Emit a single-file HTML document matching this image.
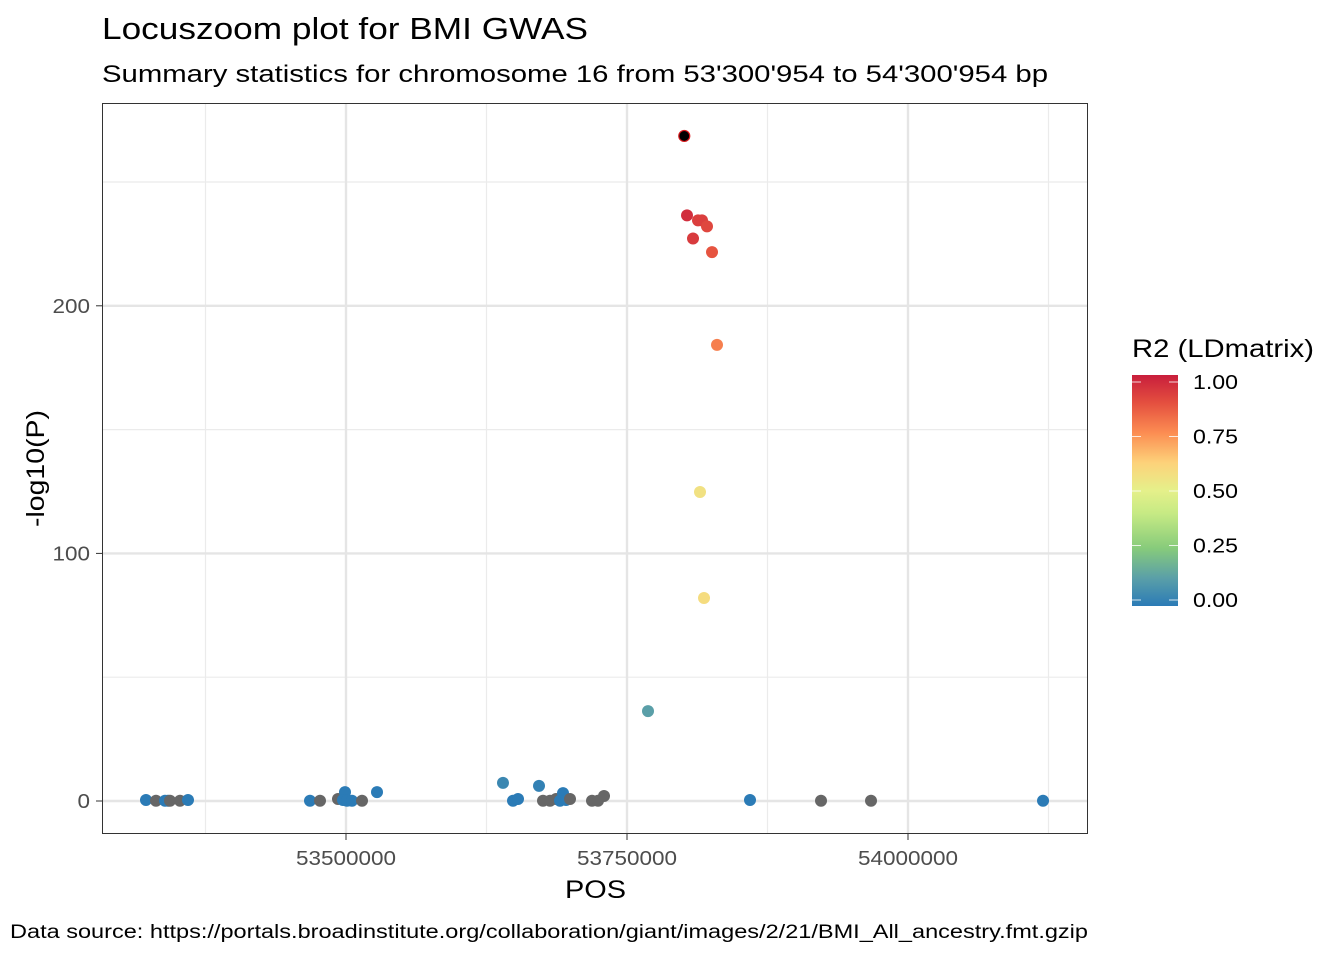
<!DOCTYPE html>
<html><head><meta charset="utf-8"><style>
body{margin:0;background:#fff;font-family:"Liberation Sans",Arial,sans-serif}
</style></head><body>
<svg id="chart" width="1344" height="960" xmlns="http://www.w3.org/2000/svg" font-family="Liberation Sans, Arial, sans-serif">
<defs><linearGradient id="spec" x1="0" y1="1" x2="0" y2="0">
<stop offset="0" stop-color="#2b7bb6"/><stop offset="0.12" stop-color="#5a9fa8"/><stop offset="0.25" stop-color="#87cb7b"/><stop offset="0.4" stop-color="#c6ea84"/><stop offset="0.5" stop-color="#e5f08a"/><stop offset="0.62" stop-color="#fdd27a"/><stop offset="0.75" stop-color="#fc8d52"/><stop offset="0.88" stop-color="#e44f3f"/><stop offset="1" stop-color="#c81e3c"/>
</linearGradient></defs>
<text x="102" y="39" font-size="31" textLength="486" lengthAdjust="spacingAndGlyphs">Locuszoom plot for BMI GWAS</text>
<text x="102" y="82" font-size="24" textLength="946" lengthAdjust="spacingAndGlyphs">Summary statistics for chromosome 16 from 53'300'954 to 54'300'954 bp</text>
<g id="grid"></g><g id="pts"></g>
<rect x="102.5" y="103.5" width="985" height="730" fill="none" stroke="#333" stroke-width="1"/>
<g id="axes"></g>
<text x="565" y="898" font-size="25" textLength="61" lengthAdjust="spacingAndGlyphs">POS</text>
<text transform="translate(44,527) rotate(-90)" font-size="25" textLength="117" lengthAdjust="spacingAndGlyphs">-log10(P)</text>
<text x="1132" y="357" font-size="25" textLength="182" lengthAdjust="spacingAndGlyphs">R2 (LDmatrix)</text>
<rect x="1132" y="375" width="46" height="231" fill="url(#spec)"/>
<g id="leg"></g>
<text x="10" y="938" font-size="19" textLength="1078" lengthAdjust="spacingAndGlyphs">Data source: https://portals.broadinstitute.org/collaboration/giant/images/2/21/BMI_All_ancestry.fmt.gzip</text>
</svg>
<script>
const pos=[53322060,53330957,53338964,53341633,53343413,53352310,53359427,53467971,53476868,53492882,53499110,53497331,53500890,53505338,53514235,53527581,53639683,53648580,53653028,53671712,53675271,53681499,53686837,53690396,53693065,53695734,53699293,53718866,53724204,53729543,53768689,53803388,53808726,53813174,53816733,53821182,53825630,53830079,53814954,53818513,53859439,53922608,53967093,54120121,53800954];
const logp=[0.4,0.1,0.1,0.1,0.1,0.1,0.4,0.1,0.1,0.8,3.6,0.4,0.1,0.1,0.1,3.6,7.3,0.1,0.8,6.1,0.1,0.1,0.8,0.1,3.2,0.4,0.8,0.1,0.1,2,36.3,236.5,227.2,234.5,234.5,232.1,221.7,184.2,124.8,82,0.4,0.1,0.1,0.1,268.6];
const r2=[0,null,0,0,null,null,0,0,null,null,0,0,0,0,null,0,0.04,0,0,0.02,null,null,null,0,0,0,null,null,null,null,0.12,0.96,0.93,0.92,0.92,0.9,0.87,0.78,0.56,0.58,0,null,null,0,1];
const xTicks=[53500000,53750000,54000000];
const xMinor=[53375000,53625000,53875000,54125000];
const yTicks=[0,100,200];
const yMinor=[50,150,250];
const legTicks=["0.00","0.25","0.50","0.75","1.00"];
const NS="http://www.w3.org/2000/svg";
const X=v=>346+(v-53500000)*281/250000;
const Y=v=>801-v*2.476;
const L=v=>600-v*218;
function mk(tag,at,par){const e=document.createElementNS(NS,tag);for(const k in at)e.setAttribute(k,at[k]);document.getElementById(par).appendChild(e);return e;}
function col(t){const s=[[0,[43,123,182]],[0.12,[90,159,168]],[0.25,[135,203,123]],[0.4,[198,234,132]],[0.5,[229,240,138]],[0.62,[253,210,122]],[0.75,[252,141,82]],[0.88,[228,79,63]],[1,[200,30,60]]];
for(let i=1;i<s.length;i++){if(t<=s[i][0]){const f=(t-s[i-1][0])/(s[i][0]-s[i-1][0]);const c=s[i-1][1].map((a,j)=>Math.round(a+(s[i][1][j]-a)*f));return `rgb(${c})`;}}return "rgb(200,30,60)";}
xMinor.forEach(v=>{const e=mk('line',{x1:X(v),x2:X(v),y1:104,y2:833,stroke:'#ebebeb','stroke-width':1.2},'grid');});
yMinor.forEach(v=>{const e=mk('line',{x1:103,x2:1087,y1:Y(v),y2:Y(v),stroke:'#ebebeb','stroke-width':1.2},'grid');});
xTicks.forEach(v=>{const e=mk('line',{x1:X(v),x2:X(v),y1:104,y2:833,stroke:'#e5e5e5','stroke-width':2.4},'grid');
const t=mk('line',{x1:X(v),x2:X(v),y1:834,y2:840,stroke:'#333','stroke-width':1},'axes');
const l=mk('text',{x:X(v)-50,y:865,'font-size':20,fill:'#4d4d4d',textLength:100,lengthAdjust:'spacingAndGlyphs'},'axes');l.textContent=v;});
yTicks.forEach(v=>{const e=mk('line',{x1:103,x2:1087,y1:Y(v),y2:Y(v),stroke:'#e5e5e5','stroke-width':2.4},'grid');
const t=mk('line',{x1:96,x2:102,y1:Y(v),y2:Y(v),stroke:'#333','stroke-width':1},'axes');
const w=String(v).length*12.5;
const l=mk('text',{x:90-w,y:Y(v)+7,'font-size':20,fill:'#4d4d4d',textLength:w,lengthAdjust:'spacingAndGlyphs'},'axes');l.textContent=v;});
legTicks.forEach(s=>{const v=parseFloat(s);
const a=mk('line',{x1:1132,x2:1141,y1:L(v),y2:L(v),stroke:'#fff','stroke-width':1,opacity:0.8},'leg');
const b=mk('line',{x1:1169,x2:1178,y1:L(v),y2:L(v),stroke:'#fff','stroke-width':1,opacity:0.8},'leg');
const l=mk('text',{x:1193,y:L(v)+7,'font-size':20,textLength:45,lengthAdjust:'spacingAndGlyphs'},'leg');l.textContent=s;});
pos.forEach((p,i)=>{const lead=i===pos.length-1;const c=r2[i]===null?'#666666':col(r2[i]);
const e=mk('circle',{cx:X(p),cy:Y(logp[i]),r:lead?5.5:6,fill:lead?'#000':c,stroke:lead?'#d7191c':'none','stroke-width':lead?1.2:0},'pts');
});
</script>
</body></html>
